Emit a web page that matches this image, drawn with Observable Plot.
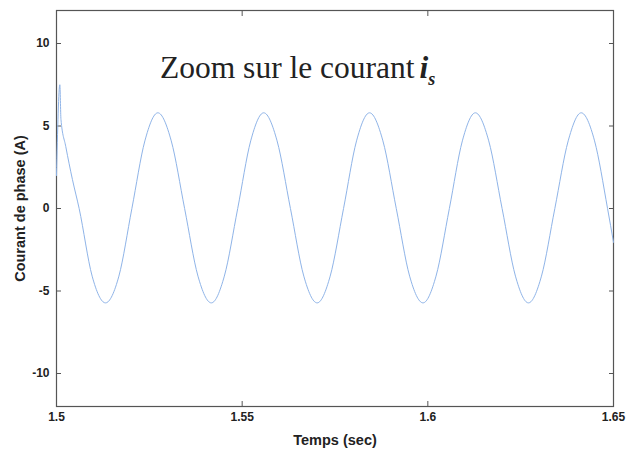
<!DOCTYPE html>
<html>
<head>
<meta charset="utf-8">
<script src="https://cdn.jsdelivr.net/npm/d3@7"></script>
<script src="https://cdn.jsdelivr.net/npm/@observablehq/plot@0.6"></script>
<style>
  body { margin: 0; background: #fff; }
  #wrap { position: relative; width: 638px; height: 450px; background: #fff; }
  #title { position: absolute; left: 160px; top: 50px; font-family: "Liberation Serif", "DejaVu Serif", serif; font-size: 31.5px; color: #222; white-space: nowrap; }
  #title i { font-weight: bold; }
  #title sub { font-size: 18px; vertical-align: -7px; line-height: 0; }
</style>
</head>
<body>
<div id="wrap"><div id="title">Zoom sur le courant<i style="margin-left:5px">i</i><sub><i>s</i></sub></div></div>
<script>
// Time (s)
const time = [
  1.5000, 1.5009, 1.5012, 1.5025, 1.5043, 1.5061, 1.5096, 1.5132,
  1.5168, 1.5203, 1.5238, 1.5273, 1.5309, 1.5345, 1.5381, 1.5417,
  1.5452, 1.5488, 1.5523, 1.5558, 1.5594, 1.5630, 1.5666, 1.5702,
  1.5737, 1.5773, 1.5808, 1.5843, 1.5879, 1.5915, 1.5951, 1.5987,
  1.6022, 1.6058, 1.6093, 1.6128, 1.6164, 1.6200, 1.6236, 1.6271,
  1.6306, 1.6342, 1.6378, 1.6413, 1.6449, 1.6484, 1.6500
];
// Phase current i_s (A)
const current = [
  2.0, 7.5, 5.4, 3.75, 1.75, 0.0, -4.1, -5.72,
  -4.1, 0.0, 4.1, 5.8, 4.1, 0.0, -4.1, -5.72,
  -4.1, 0.0, 4.1, 5.8, 4.1, 0.0, -4.1, -5.72,
  -4.1, 0.0, 4.1, 5.8, 4.1, 0.0, -4.1, -5.72,
  -4.1, 0.0, 4.1, 5.8, 4.1, 0.0, -4.1, -5.72,
  -4.1, 0.0, 4.1, 5.8, 4.1, 0.0, -2.05
];
const xTicks = [1.5, 1.55, 1.6, 1.65];
const xTickLabels = ["1.5", "1.55", "1.6", "1.65"];
const yTicks = [-10, -5, 0, 5, 10];
const yTickLabels = ["-10", "-5", "0", "5", "10"];

const data = time.map((t, k) => ({t, v: current[k]}));
const fx = d => xTickLabels[xTicks.indexOf(d)] ?? "";
const fy = d => yTickLabels[yTicks.indexOf(d)] ?? "";

const chart = Plot.plot({
  width: 638,
  height: 450,
  marginLeft: 56,
  marginRight: 25,
  marginTop: 10,
  marginBottom: 44,
  style: {fontFamily: "'Liberation Sans', Arial, sans-serif", background: "#fff", color: "#222"},
  x: {domain: [1.5, 1.65]},
  y: {domain: [-12, 12]},
  marks: [
    Plot.axisX({anchor: "bottom", ticks: xTicks, tickFormat: fx, tickSize: -5, tickPadding: 11, stroke: "#555",
                fontSize: 12, fontWeight: "bold", label: "Temps (sec)", labelAnchor: "center", labelArrow: "none", labelOffset: 38}),
    Plot.axisX({anchor: "top", ticks: xTicks, tickFormat: () => "", tickSize: -5, stroke: "#555", label: null}),
    Plot.axisY({anchor: "left", ticks: yTicks, tickFormat: fy, tickSize: -5, tickPadding: 12, stroke: "#555",
                fontSize: 12, fontWeight: "bold", label: "Courant de phase (A)", labelAnchor: "center", labelArrow: "none", labelOffset: 42}),
    Plot.axisY({anchor: "right", ticks: yTicks, tickFormat: () => "", tickSize: -5, stroke: "#555", label: null}),
    Plot.frame({stroke: "#555", strokeWidth: 1.2}),
    Plot.line(data, {x: "t", y: "v", stroke: "#8fb4e8", strokeWidth: 1, curve: "monotone-x"})
  ]
});
d3.select(chart).selectAll("[aria-label$='axis label'] text").style("font-size", "14.5px").style("font-weight", "bold");
document.getElementById("wrap").prepend(chart);
</script>
</body>
</html>
